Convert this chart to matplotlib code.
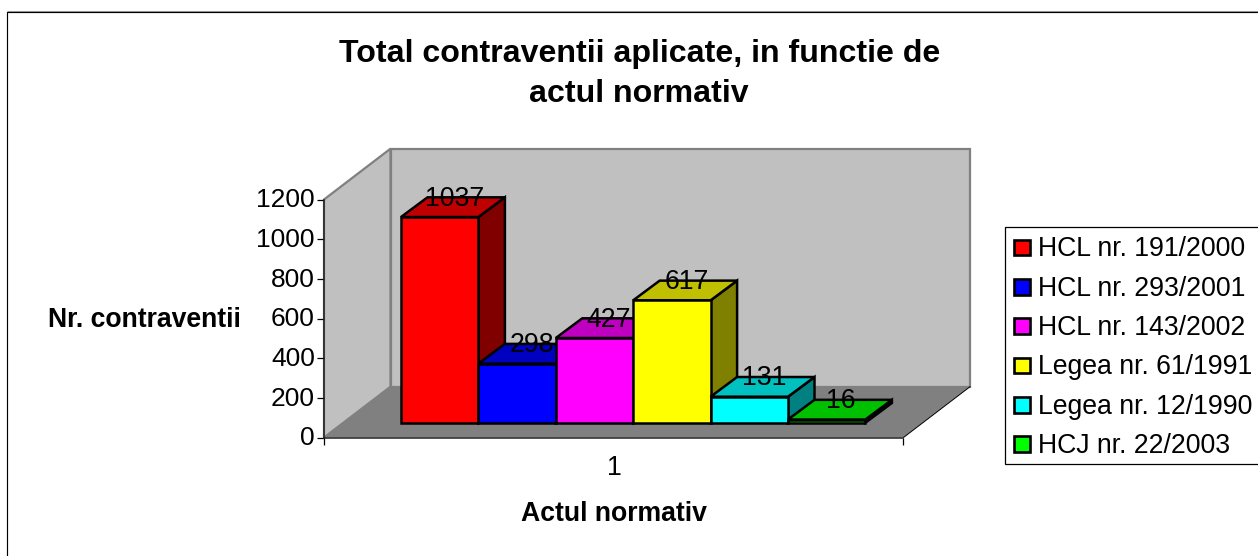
import matplotlib
matplotlib.use("Agg")
import matplotlib.pyplot as plt
from matplotlib.patches import Polygon, Rectangle
from matplotlib.transforms import ScaledTranslation

plt.rcParams['font.family'] = ['Liberation Sans', 'DejaVu Sans']

TITLE = "Total contraventii aplicate, in functie de\nactul normativ"
Y_LABEL = "Nr. contraventii"
X_LABEL = "Actul normativ"
CATEGORIES = ["1"]
SERIES = ["HCL nr. 191/2000", "HCL nr. 293/2001", "HCL nr. 143/2002",
          "Legea nr. 61/1991", "Legea nr. 12/1990", "HCJ nr. 22/2003"]
VALUES = [1037, 298, 427, 617, 131, 16]
FRONT = ["#ff0000", "#0000ff", "#ff00ff", "#ffff00", "#00ffff", "#00ff00"]
TOP = ["#c00000", "#0000c0", "#c000c0", "#c0c000", "#00c0c0", "#00c000"]
SIDE = ["#800000", "#000080", "#800080", "#808000", "#008080", "#008000"]
Y_TICKS = [0, 200, 400, 600, 800, 1000, 1200]

W, H = 1258, 556
fig = plt.figure(figsize=(W / 100, H / 100), dpi=100, facecolor="white")

def rect(l, t, r, b):
    return [l / W, 1 - b / H, (r - l) / W, (b - t) / H]

# page frame
bg = fig.add_axes([0, 0, 1, 1], zorder=0)
bg.set_xlim(0, W); bg.set_ylim(H, 0); bg.axis("off")
bg.plot([6.6, W], [10.5, 10.5], color="#a0a0a0", lw=0.75, solid_capstyle="butt")
bg.plot([6.6, 6.6, W], [H, 11.5, 11.5], color="black", lw=0.85, solid_capstyle="butt")

# axes = front plane of the box, y in data units, x in px-from-axis
AX_L, AX_R, AX_T, AX_B = 324, 903.5, 199.5, 437.5
ax = fig.add_axes(rect(AX_L, AX_T, AX_R, AX_B), zorder=1)
ax.patch.set_alpha(0)
ax.set_xlim(0, AX_R - AX_L)
ax.set_ylim(0, Y_TICKS[-1])
u = Y_TICKS[-1] / (AX_B - AX_T)  # value units per pixel
for s in ("top", "right"):
    ax.spines[s].set_visible(False)
for s in ("left", "bottom"):
    ax.spines[s].set_color("#202020"); ax.spines[s].set_linewidth(1.1)
    ax.spines[s].set_zorder(2)
ax.set_yticks(Y_TICKS)
ax.set_xticks([0, AX_R - AX_L])
ax.set_xticklabels(["", ""])
ax.tick_params(axis="both", length=5, width=0.9, direction="out", labelsize=19, pad=1.5)
lift = ScaledTranslation(0, 1.2 / 72, fig.dpi_scale_trans)
for lbl in ax.get_yticklabels():
    lbl.set_transform(lbl.get_transform() + lift)

# box walls
DX, DY = 66.5, 50.8 * u
gray = "#c0c0c0"; edge = "#808080"
top = Y_TICKS[-1]; xr = AX_R - AX_L
ax.add_patch(Polygon([(0, 0), (DX, DY), (xr + DX, DY), (xr, 0)], fc="#808080", ec="none", clip_on=False, zorder=1))
ax.add_patch(Polygon([(0, 0), (DX, DY), (DX, DY + top), (0, top)], fc=gray, ec=edge, lw=1.6, clip_on=False, zorder=1))
ax.add_patch(Polygon([(DX, DY), (xr + DX, DY), (xr + DX, DY + top), (DX, DY + top)], fc=gray, ec=edge, lw=1.6, clip_on=False, zorder=1))
ax.plot([xr, xr + DX], [0, DY], color="black", lw=0.7, clip_on=False, zorder=1)

# bars
BAR_X0, BAR_W = 77.0, 77.4
BASE = 14.8 * u
BX, BY = 26.5, 19.7 * u
for i, (v, f, t, s) in enumerate(zip(VALUES, FRONT, TOP, SIDE)):
    l = BAR_X0 + i * BAR_W
    r = l + BAR_W
    b = BASE
    h = BASE + v
    z = 3 + i
    kw = dict(ec="black", lw=1.8, joinstyle="miter", clip_on=False, zorder=z)
    ax.add_patch(Polygon([(r, b), (r + BX, b + BY), (r + BX, h + BY), (r, h)], fc=s, **kw))
    ax.add_patch(Polygon([(l, h), (l + BX, h + BY), (r + BX, h + BY), (r, h)], fc=t, **kw))
    ax.add_patch(Polygon([(l, b), (r, b), (r, h), (l, h)], fc=f, **kw))
for i, v in enumerate(VALUES):
    cx = BAR_X0 + i * BAR_W + BAR_W / 2 + 14.5
    ax.text(cx, BASE + v + 18.5 * u, str(v), ha="center", va="center", fontsize=19.2, color="black", zorder=20, clip_on=False)

fig.text(639.5 / W, 1 - 54.5 / H, TITLE.split("\n")[0], ha="center", va="center", fontsize=23.1, fontweight="bold")
fig.text(639 / W, 1 - 93.5 / H, TITLE.split("\n")[1], ha="center", va="center", fontsize=23.1, fontweight="bold")
fig.text(144 / W, 1 - 320 / H, Y_LABEL, ha="center", va="center", fontsize=19.2, fontweight="bold")
fig.text(613.5 / W, 1 - 514 / H, X_LABEL, ha="center", va="center", fontsize=19.2, fontweight="bold")
fig.text(614 / W, 1 - 468 / H, CATEGORIES[0], ha="center", va="center", fontsize=19.2)

# legend box, drawn in page coordinates (as in the source, cut off by the right edge)
bg.add_patch(Rectangle((1004.5, 227), 300, 236.5, fc="white", ec="black", lw=0.9, clip_on=True))
overlay = fig.add_axes([0, 0, 1, 1], zorder=2)
overlay.set_xlim(0, W); overlay.set_ylim(H, 0); overlay.axis("off")
for i, (name, f) in enumerate(zip(SERIES, FRONT)):
    y = 247.5 + i * 39.3
    overlay.add_patch(Rectangle((1014, y - 7.7), 15.5, 15.5, fc=f, ec="black", lw=1.9))
    overlay.text(1037.5, y + 2, name, ha="left", va="center", fontsize=19.2)

fig.savefig("out.png", dpi=100)
